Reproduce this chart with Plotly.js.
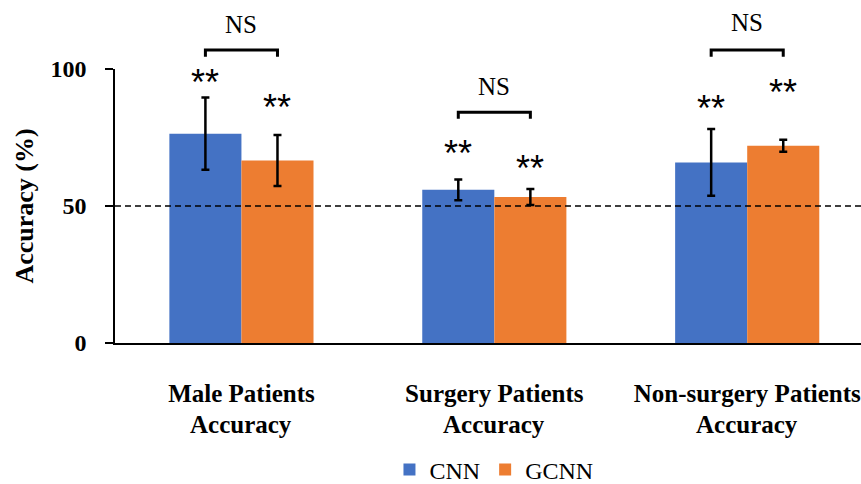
<!DOCTYPE html>
<html>
<head>
<meta charset="utf-8">
<script src="https://cdn.plot.ly/plotly-3.0.1.min.js"></script>
<style>html,body{margin:0;padding:0;background:#fff;}#chart{width:861px;height:484px;}</style>
</head>
<body>
<div id="chart"></div>
<script>
// ---- data ----
const categories = ['Male Patients', 'Surgery Patients', 'Non-surgery Patients'];
const tickLine1 = ['Male Patients', 'Surgery Patients', 'Non-surgery Patients'];
const tickLine2 = ['Accuracy', 'Accuracy', 'Accuracy'];
const cnnMean = [76.4, 55.9, 65.9];
const cnnErr = [13.2, 3.8, 12.2];
const gcnnMean = [66.6, 53.3, 72.0];
const gcnnErr = [9.3, 2.9, 2.2];
const cnnMark = ['**', '**', '**'];
const gcnnMark = ['**', '**', '**'];
const pairLabel = ['NS', 'NS', 'NS'];
const chanceLevel = 50;
const yTicks = [0, 50, 100];

// ---- layout helpers ----
const serif = 'Liberation Serif';
const yMax = 100;
const plotH = 274;               // plot height in px (484 - 69 - 141)
const plotW = 746;               // plot width in px (861 - 115)
const off = 0.1425;              // half a bar, in category units
const cnnStarY = [95.0, 69.1, 85.5];
const gcnnStarY = [85.9, 63.6, 91.3];
const bracketY = [106.9, 84.2, 106.9];
const bracketDrop = 2.4;
const nsY = [116.4, 93.5, 116.8];

const traces = [
  {type: 'bar', name: 'CNN', x: categories, y: cnnMean,
   marker: {color: '#4472C4'},
   error_y: {type: 'data', array: cnnErr, visible: true, color: '#000', thickness: 2.5, width: 4}},
  {type: 'bar', name: 'GCNN', x: categories, y: gcnnMean,
   marker: {color: '#ED7D31'},
   error_y: {type: 'data', array: gcnnErr, visible: true, color: '#000', thickness: 2.5, width: 4}}
];

const tickFontX = {family: serif, size: 25, color: '#000', weight: 'bold'};
const shapes = [
  {type: 'line', xref: 'paper', yref: 'y', x0: 0, x1: 1, y0: chanceLevel, y1: chanceLevel,
   line: {color: '#000', width: 1.5, dash: '6px,4px'}, layer: 'above'},
  {type: 'line', xref: 'paper', yref: 'paper', x0: -8 / plotW, x1: 0, y0: 0, y1: 0,
   line: {color: '#000', width: 1.5}}
];
const annotations = [];
categories.forEach((c, i) => {
  const xl = i - off, xr = i + off, yb = bracketY[i] / yMax, yd = (bracketY[i] - bracketDrop) / yMax;
  shapes.push({type: 'path', xref: 'x', yref: 'paper',
    path: `M ${xl} ${yd} L ${xl} ${yb} L ${xr} ${yb} L ${xr} ${yd}`,
    line: {color: '#000', width: 3}});
  annotations.push({xref: 'x', yref: 'paper', x: i, y: nsY[i] / yMax, text: pairLabel[i], showarrow: false,
    font: {family: serif, size: 25, color: '#000'}, yanchor: 'middle'});
  annotations.push({xref: 'x', yref: 'paper', x: xl, y: cnnStarY[i] / yMax, text: cnnMark[i], showarrow: false,
    font: {family: 'Liberation Sans', size: 36, color: '#000'}, yanchor: 'middle'});
  annotations.push({xref: 'x', yref: 'paper', x: xr, y: gcnnStarY[i] / yMax, text: gcnnMark[i], showarrow: false,
    font: {family: 'Liberation Sans', size: 36, color: '#000'}, yanchor: 'middle'});
  annotations.push({xref: 'x', yref: 'paper', x: i, y: -81 / plotH, text: tickLine2[i], showarrow: false,
    font: tickFontX, yanchor: 'middle'});
});

const layout = {
  width: 861, height: 484,
  margin: {l: 115, r: 0, t: 69, b: 141, autoexpand: false},
  paper_bgcolor: '#fff', plot_bgcolor: '#fff',
  barmode: 'group', bargap: 0.43, bargroupgap: 0,
  showlegend: true,
  legend: {orientation: 'h', x: 0.508, xanchor: 'center', y: -127 / plotH, yanchor: 'middle',
    font: {family: serif, size: 24, color: '#000'}, itemwidth: 30},
  xaxis: {type: 'category', range: [-0.5, 2.45], tickvals: categories, ticktext: tickLine1,
    showline: true, linecolor: '#000', linewidth: 1.5, ticks: '', showgrid: false, zeroline: false,
    ticklabelstandoff: 27, tickfont: tickFontX, automargin: false},
  yaxis: {range: [0, yMax], tickvals: yTicks, ticks: 'outside', ticklen: 8, tickwidth: 1.5,
    tickcolor: '#000', showline: true, linecolor: '#000', linewidth: 1.5, showgrid: false, zeroline: false,
    ticklabelstandoff: 14,
    tickfont: {family: serif, size: 24, color: '#000', weight: 'bold'}, automargin: false,
    title: {text: 'Accuracy (%)', standoff: 9, font: {family: serif, size: 26, color: '#000', weight: 'bold'}}},
  shapes: shapes,
  annotations: annotations
};

Plotly.newPlot('chart', traces, layout, {displayModeBar: false, responsive: false});
</script>
</body>
</html>
